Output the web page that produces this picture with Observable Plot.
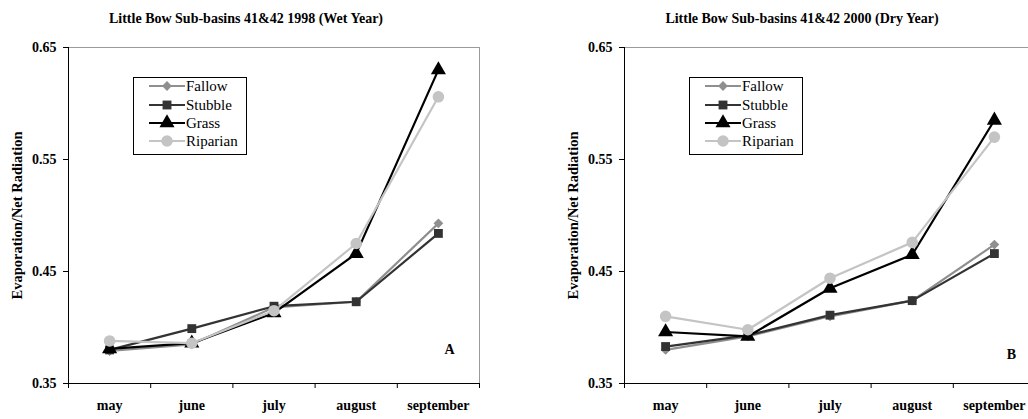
<!DOCTYPE html>
<html>
<head>
<meta charset="utf-8">
<script src="https://cdn.jsdelivr.net/npm/d3@7"></script>
<script src="https://cdn.jsdelivr.net/npm/@observablehq/plot@0.6"></script>
<style>
  html, body { margin: 0; padding: 0; background: #fff; overflow: hidden; }
  #wrap { position: relative; width: 1028px; height: 419px; overflow: hidden; }
  #left, #right { position: absolute; top: 0; }
  #left { left: 0; width: 514px; }
  #right { left: 514px; width: 550px; }
  svg { max-width: none !important; }
</style>
</head>
<body>
<div id="wrap"><div id="left"></div><div id="right"></div></div>
<script>
const months = ["may", "june", "july", "august", "september"];
const seriesNames = ["Fallow", "Stubble", "Grass", "Riparian"];
const yTicks = [0.35, 0.45, 0.55, 0.65];

const wet1998Fallow   = [0.379, 0.385, 0.418, 0.423, 0.493];
const wet1998Stubble  = [0.380, 0.399, 0.419, 0.423, 0.484];
const wet1998Grass    = [0.381, 0.386, 0.413, 0.466, 0.630];
const wet1998Riparian = [0.388, 0.386, 0.415, 0.475, 0.606];

const dry2000Fallow   = [0.380, 0.392, 0.410, 0.424, 0.474];
const dry2000Stubble  = [0.383, 0.393, 0.411, 0.424, 0.466];
const dry2000Grass    = [0.396, 0.392, 0.435, 0.465, 0.585];
const dry2000Riparian = [0.410, 0.398, 0.444, 0.476, 0.570];

const styles = {
  Fallow:   {color: "#8f8f8f", symbol: "diamond2", r: 4.4},
  Stubble:  {color: "#333333", symbol: "square", r: 5.0},
  Grass:    {color: "#000000", symbol: "triangle", r: 5.6},
  Riparian: {color: "#c4c4c4", symbol: "circle", r: 5.8}
};

function toRows(valuesBySeries) {
  const rows = [];
  seriesNames.forEach((s, k) => {
    valuesBySeries[k].forEach((v, i) => rows.push({series: s, xi: i + 0.5, month: months[i], value: v}));
  });
  return rows;
}

function panel(el, opts) {
  const rows = toRows(opts.values);
  const font = "'Liberation Serif', 'Times New Roman', serif";
  const marks = [
    Plot.frame({stroke: "#9a9a9a"}),
    Plot.ruleX([0], {stroke: "#000"}),
    Plot.ruleY([0.35], {stroke: "#000"}),
    Plot.axisY({ticks: yTicks, tickFormat: d3.format(".2f"), tickSize: 5, tickPadding: 7, label: null, fontSize: 14}),
    Plot.axisX({ticks: [0, 1, 2, 3, 4, 5], tickFormat: () => "", tickSize: 5, label: null}),
    Plot.axisX({ticks: months.map((m, i) => i + 0.5), tickFormat: d => months[Math.floor(d)], tickSize: 0, tickPadding: 17, label: null, fontSize: 14})
  ];
  for (const s of seriesNames) {
    const st = styles[s];
    const d = rows.filter(r => r.series === s);
    marks.push(Plot.line(d, {x: "xi", y: "value", stroke: st.color, strokeWidth: 2.2}));
  }
  for (const s of seriesNames) {
    const st = styles[s];
    const d = rows.filter(r => r.series === s);
    marks.push(Plot.dot(d, {x: "xi", y: "value", symbol: () => st.symbol, fill: st.color, stroke: "none", r: st.r}));
  }
  marks.push(Plot.text([opts.title], {frameAnchor: "top", dy: -34, dx: opts.titleDx, fontSize: 14, fontWeight: "bold"}));
  marks.push(Plot.text([opts.ylabel], {frameAnchor: "left", textAnchor: "middle", rotate: -90, dx: -51, fontSize: 14.5, fontWeight: "bold"}));
  marks.push(Plot.text([opts.letter], {frameAnchor: "bottom-right", textAnchor: "middle", dx: opts.letterDx, dy: opts.letterDy, fontSize: 14, fontWeight: "bold"}));

  const chart = Plot.plot({
    width: opts.width, height: 419,
    marginLeft: opts.marginLeft, marginRight: opts.marginRight, marginTop: 47, marginBottom: 36,
    x: {type: "linear", domain: [0, 5]},
    y: {domain: [0.35, 0.65]},
    symbol: {type: "ordinal", domain: ["diamond2", "square", "triangle", "circle"], range: ["diamond2", "square", "triangle", "circle"]},
    style: {fontFamily: font, fontSize: "14px", fontWeight: "bold", color: "#000", background: "#fff", overflow: "visible", maxWidth: "none"},
    marks
  });
  el.appendChild(chart);

  // legend box
  const svg = d3.select(chart);
  const lx = opts.marginLeft + 65, ly = 77, lw = 113, lh = 77;
  const g = svg.append("g").attr("font-family", font).attr("font-weight", "normal").attr("font-size", 15).attr("text-anchor", "start");
  g.append("rect").attr("x", lx + 0.5).attr("y", ly + 0.5).attr("width", lw).attr("height", lh)
    .attr("fill", "#fff").attr("stroke", "#000").attr("stroke-width", 1);
  const rowsY = [86, 105, 123, 141];
  const symMap = {diamond2: d3.symbolDiamond2, square: d3.symbolSquare, triangle: d3.symbolTriangle, circle: d3.symbolCircle};
  seriesNames.forEach((s, k) => {
    const st = styles[s];
    const y = rowsY[k];
    g.append("line").attr("x1", lx + 16).attr("x2", lx + 52).attr("y1", y).attr("y2", y)
      .attr("stroke", st.color).attr("stroke-width", 2.2);
    g.append("path").attr("transform", `translate(${lx + 34},${y})`)
      .attr("d", d3.symbol(symMap[st.symbol], Math.PI * st.r * st.r)()).attr("fill", st.color);
    g.append("text").attr("x", lx + 53).attr("y", y).attr("dy", "0.35em").text(s);
  });
}

panel(document.getElementById("left"), {
  values: [wet1998Fallow, wet1998Stubble, wet1998Grass, wet1998Riparian],
  title: "Little Bow Sub-basins 41&42 1998 (Wet Year)",
  ylabel: "Evaporation/Net Radiation",
  letter: "A",
  width: 514, marginLeft: 68, marginRight: 35,
  titleDx: -28, letterDx: -30, letterDy: -30
});
panel(document.getElementById("right"), {
  values: [dry2000Fallow, dry2000Stubble, dry2000Grass, dry2000Riparian],
  title: "Little Bow Sub-basins 41&42 2000 (Dry Year)",
  ylabel: "Evaporation/Net Radiation",
  letter: "B",
  width: 550, marginLeft: 110, marginRight: 29,
  titleDx: -28, letterDx: -24, letterDy: -25
});
</script>
</body>
</html>
